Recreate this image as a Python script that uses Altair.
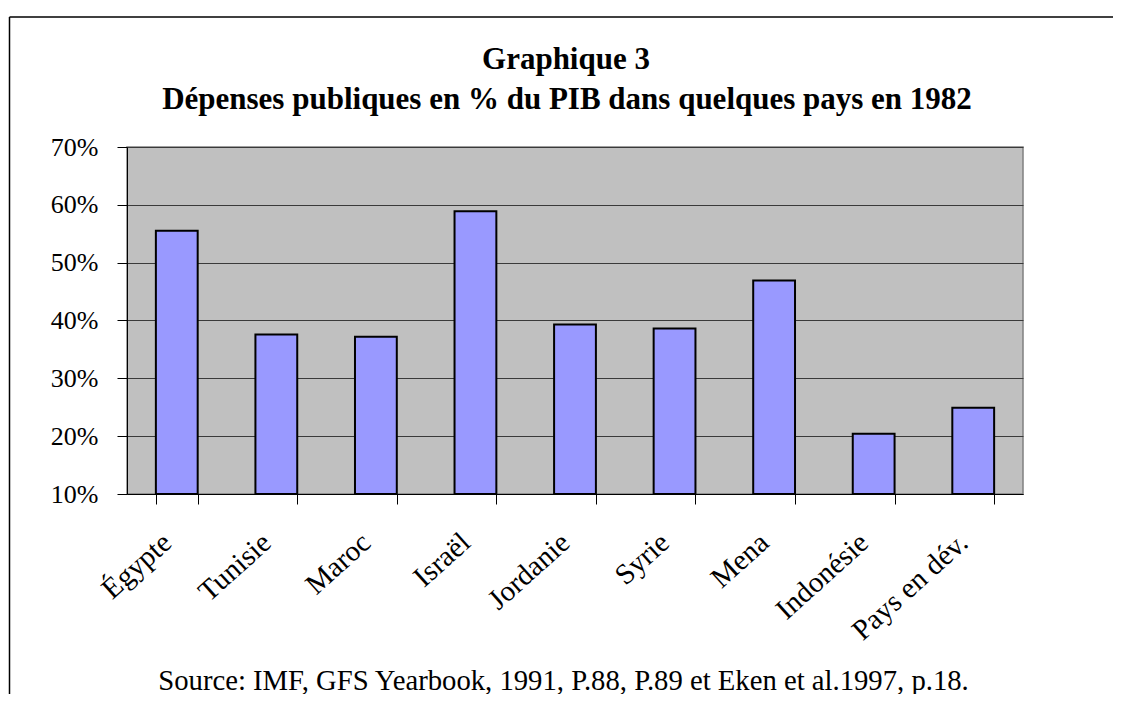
import altair as alt
import pandas as pd

categories = ["Égypte", "Tunisie", "Maroc", "Israël", "Jordanie", "Syrie", "Mena", "Indonésie", "Pays en dév."]
values = [0.555, 0.376, 0.372, 0.589, 0.393, 0.386, 0.469, 0.204, 0.249]
y_ticks = [0.1, 0.2, 0.3, 0.4, 0.5, 0.6, 0.7]
title_lines = ["Graphique 3", "Dépenses publiques en % du PIB dans quelques pays en 1982"]
source_text = "Source: IMF, GFS Yearbook, 1991, P.88, P.89 et Eken et al.1997, p.18."

df = pd.DataFrame({"pays": categories, "valeur": values})
one = pd.DataFrame({"k": [0]})

FONT = "Liberation Serif"
W, H = 896, 347

bars = alt.Chart(df).mark_bar(color="#9999FF", stroke="black", strokeWidth=2).encode(
    x=alt.X(
        "pays:N",
        sort=categories,
        scale=alt.Scale(paddingInner=0.58, paddingOuter=0.29),
        axis=alt.Axis(
            title=source_text,
            titleFont=FONT, titleFontSize=28.7, titleFontWeight="normal", titleColor="black",
            titleX=436, titleY=186, titleAlign="center", titleBaseline="middle",
            labelAngle=-42, labelAlign="right", labelBaseline="middle",
            labelFont=FONT, labelFontSize=29, labelColor="black",
            labelPadding=34, labelOffset=-10,
            tickBand="extent", tickSize=10, tickColor="black", tickWidth=1,
            domainColor="black", domainWidth=1, grid=False,
        ),
    ),
    y=alt.Y(
        "valeur:Q",
        scale=alt.Scale(domain=[0.1, 0.7], nice=False, zero=False),
        axis=alt.Axis(
            values=y_ticks, format=".0%", title=None,
            labelFont=FONT, labelFontSize=26, labelColor="black", labelPadding=19,
            labelBaseline="middle",
            tickSize=10, tickColor="black", tickWidth=1,
            domainColor="black", domainWidth=1,
            grid=True, gridColor="#3a3a3a", gridWidth=1,
        ),
    ),
    y2=alt.datum(0.1),
)

title1 = alt.Chart(pd.DataFrame({"t": [title_lines[0]]})).mark_text(
    font=FONT, fontSize=31, fontWeight="bold", color="black", align="center", baseline="alphabetic"
).encode(text="t:N", x=alt.value(439), y=alt.value(-78))
title2 = alt.Chart(pd.DataFrame({"t": [title_lines[1]]})).mark_text(
    font=FONT, fontSize=31, fontWeight="bold", color="black", align="center", baseline="alphabetic"
).encode(text="t:N", x=alt.value(440), y=alt.value(-38))

border_left = alt.Chart(one).mark_rule(color="black", strokeWidth=1.5).encode(
    x=alt.value(-117.5), y=alt.value(-130), y2=alt.value(600)
)
border_top = alt.Chart(one).mark_rule(color="black", strokeWidth=1.5).encode(
    x=alt.value(-117.5), x2=alt.value(1010), y=alt.value(-130)
)

chart = alt.layer(bars, title1, title2, border_left, border_top).properties(
    width=W,
    height=H,
    padding={"left": 119, "top": 139, "right": 90, "bottom": 200},
    autosize=alt.AutoSizeParams(type="none"),
    background="white",
).configure_view(stroke="#808080", strokeWidth=1.5, fill="#C0C0C0")

chart.save("out.html", embed_options={"renderer": "svg", "actions": False})
